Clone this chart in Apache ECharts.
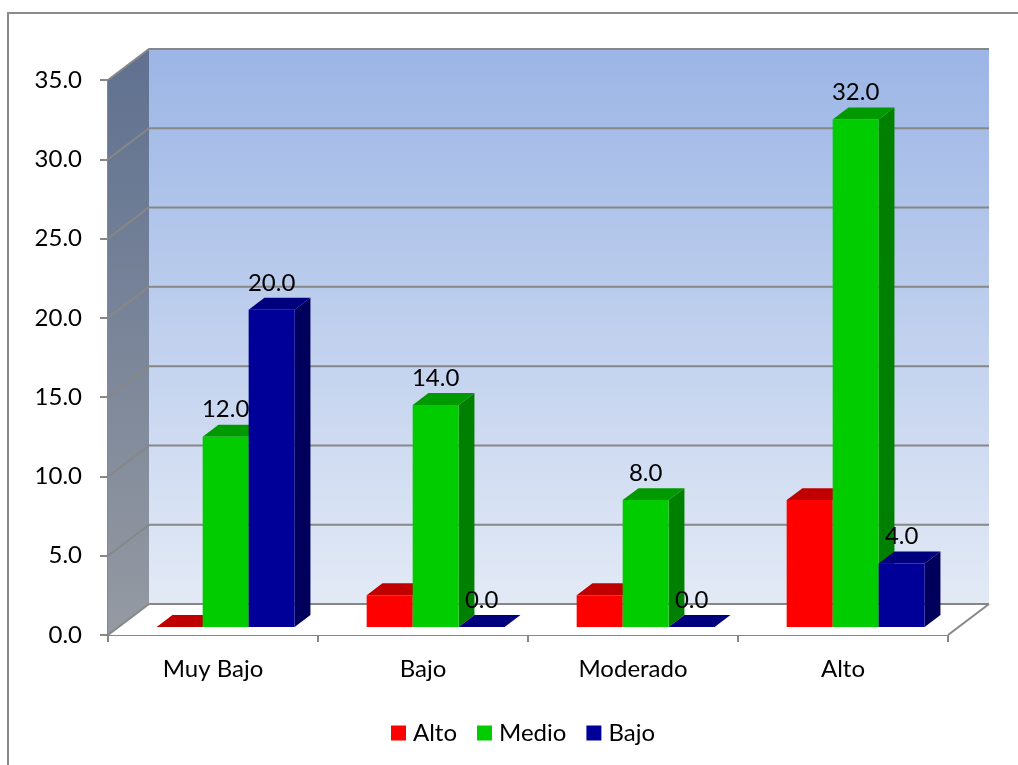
<!DOCTYPE html>
<html>
<head>
<meta charset="utf-8">
<script src="https://cdn.jsdelivr.net/npm/echarts@6/dist/echarts.min.js"></script>
<style>
  html, body { margin: 0; padding: 0; background: #ffffff; }
  #chart { width: 1018px; height: 765px; }
</style>
</head>
<body>
<div id="chart"></div>
<script>
// Chart data
const categories = ['Muy Bajo', 'Bajo', 'Moderado', 'Alto'];
const seriesNames = ['Alto', 'Medio', 'Bajo'];
const altoValues = [0, 2, 2, 8];
const medioValues = [12, 14, 8, 32];
const bajoValues = [20, 0, 0, 4];
const yTicks = [0, 5, 10, 15, 20, 25, 30, 35];

// 3D look: depth vector of the floor/walls and the slice of depth used by the bars
const DX = 41, DY = -31;
const BAR_FRONT = 0.26, BAR_BACK = 0.645;
const BAR_FRAC = 0.219;
const GROUP_SHIFT = 2;
const FONT = 'Lato';
const FONT_SIZE = 24;
const GRID_GRAY = '#878787';

const palette = {
  Alto:  { front: '#ff0000', top: '#c00000', side: '#a00000' },
  Medio: { front: '#00cc00', top: '#009a00', side: '#008000' },
  Bajo:  { front: '#000099', top: '#00007f', side: '#00005c' }
};

const chart = echarts.init(document.getElementById('chart'));

// Side wall, back wall, floor and their gridlines, built from the grid rect and value axis
function renderWalls(params, api) {
  const cs = params.coordSys;
  const L = cs.x, R = cs.x + cs.width, T = cs.y, B = cs.y + cs.height;
  const children = [];
  children.push({
    type: 'polygon',
    shape: { points: [[L, B], [L + DX, B + DY], [L + DX, T + DY], [L, T]] },
    style: { fill: new echarts.graphic.LinearGradient(0, 0, 0, 1, [
      { offset: 0, color: '#5f7190' }, { offset: 1, color: '#959aa2' }]) }
  });
  children.push({
    type: 'rect',
    shape: { x: L + DX, y: T + DY, width: R - L, height: B - T },
    style: { fill: new echarts.graphic.LinearGradient(0, 0, 0, 1, [
      { offset: 0, color: '#9bb5e5' }, { offset: 1, color: '#e3eaf6' }]) }
  });
  children.push({
    type: 'polygon',
    shape: { points: [[L, B], [R, B], [R + DX, B + DY], [L + DX, B + DY]] },
    style: { fill: '#ffffff' }
  });
  yTicks.forEach(function (v) {
    const y = api.coord([0, v])[1];
    children.push({
      type: 'polyline',
      shape: { points: [[L, y], [L + DX, y + DY], [R + DX, y + DY]] },
      style: { stroke: GRID_GRAY, lineWidth: 2, fill: null }
    });
  });
  children.push({
    type: 'line',
    shape: { x1: R, y1: B, x2: R + DX, y2: B + DY },
    style: { stroke: GRID_GRAY, lineWidth: 2 }
  });
  return { type: 'group', children: children };
}

// One 3D box per value: side, top, then front face, plus an optional value label
function makeBarSeries(name, values, idx, labelled) {
  const col = palette[name];
  return {
    type: 'custom',
    name: name,
    z: 3,
    itemStyle: { color: col.front },
    data: values.map(function (v, i) { return [i, v]; }),
    encode: { x: 0, y: 1 },
    renderItem: function (params, api) {
      const c = api.value(0), v = api.value(1);
      const p0 = api.coord([c, 0]);
      const p1 = api.coord([c, v]);
      const bw = api.size([1, 0])[0] * BAR_FRAC;
      const ox = BAR_FRONT * DX + GROUP_SHIFT, oy = BAR_FRONT * DY;
      const xl = p0[0] + (idx - 1.5) * bw + ox, xr = xl + bw;
      const yb = p0[1] + oy, yt = p1[1] + oy;
      const bx = (BAR_BACK - BAR_FRONT) * DX, by = (BAR_BACK - BAR_FRONT) * DY;
      const children = [
        { type: 'polygon', shape: { points: [[xr, yt], [xr + bx, yt + by], [xr + bx, yb + by], [xr, yb]] },
          style: { fill: col.side } },
        { type: 'polygon', shape: { points: [[xl, yt], [xr, yt], [xr + bx, yt + by], [xl + bx, yt + by]] },
          style: { fill: col.top } },
        { type: 'rect', shape: { x: xl, y: yt, width: bw, height: yb - yt },
          style: { fill: col.front } }
      ];
      if (labelled) {
        children.push({
          type: 'text',
          style: {
            text: v.toFixed(1), x: (xl + xr) / 2, y: yt - 27,
            align: 'center', verticalAlign: 'middle',
            fontFamily: FONT, fontSize: FONT_SIZE, fill: '#000000'
          }
        });
      }
      return { type: 'group', children: children };
    }
  };
}

chart.setOption({
  animation: false,
  backgroundColor: '#ffffff',
  textStyle: { fontFamily: FONT },
  graphic: [{
    type: 'rect', z: 0,
    shape: { x: 8, y: 13, width: 1040, height: 790 },
    style: { fill: null, stroke: '#8a8a8a', lineWidth: 2 }
  }],
  grid: { left: 108, right: 70, top: 80, bottom: 130, containLabel: false },
  legend: {
    data: seriesNames,
    left: 386, top: 716,
    icon: 'rect', itemWidth: 15, itemHeight: 15, itemGap: 20,
    textStyle: { fontFamily: FONT, fontSize: FONT_SIZE, color: '#000000', lineHeight: 24, padding: [0, 0, 0, 2] }
  },
  xAxis: {
    type: 'category',
    data: categories,
    boundaryGap: true,
    axisLine: { show: true, lineStyle: { color: GRID_GRAY, width: 2 } },
    axisTick: { show: true, length: 7, lineStyle: { color: GRID_GRAY, width: 2 } },
    axisLabel: { margin: 22, fontFamily: FONT, fontSize: FONT_SIZE, color: '#000000' },
    splitLine: { show: false }
  },
  yAxis: {
    type: 'value',
    min: yTicks[0], max: yTicks[yTicks.length - 1], interval: 5,
    axisLine: { show: true, lineStyle: { color: GRID_GRAY, width: 2 } },
    axisTick: { show: true, length: 8, lineStyle: { color: GRID_GRAY, width: 2 } },
    axisLabel: { margin: 26, fontFamily: FONT, fontSize: FONT_SIZE, color: '#000000',
      formatter: function (v) { return v.toFixed(1); } },
    splitLine: { show: false }
  },
  series: [
    { type: 'custom', name: 'walls', z: 1, silent: true, data: [[0, 0]], encode: { x: 0, y: 1 },
      renderItem: renderWalls },
    makeBarSeries('Alto', altoValues, 0, false),
    makeBarSeries('Medio', medioValues, 1, true),
    makeBarSeries('Bajo', bajoValues, 2, true)
  ]
});
</script>
</body>
</html>
